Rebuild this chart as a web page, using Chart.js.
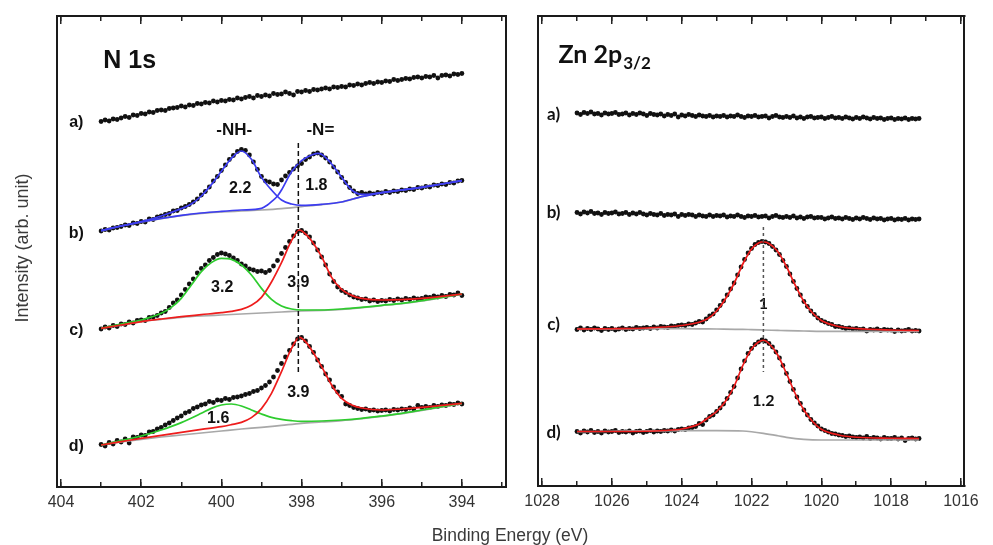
<!DOCTYPE html>
<html>
<head>
<meta charset="utf-8">
<script src="https://cdn.jsdelivr.net/npm/chart.js@4.4.1/dist/chart.umd.min.js"></script>
<style>
  html, body { margin: 0; padding: 0; background: #fff; }
  body { width: 993px; height: 545px; position: relative; overflow: hidden; }
  canvas { position: absolute; top: 0; }
  #nChart { left: 0; }
  #znChart { left: 510px; }
</style>
</head>
<body>
<canvas id="nChart" width="993" height="545"></canvas>
<canvas id="znChart" width="483" height="545"></canvas>
<script>
// ---- N 1s panel (binding energy in eV, intensity in arb. units, spectra stacked) ----
const nEnergy = Array.from({ length: 91 }, (_, i) => +(403 - i * 0.1).toFixed(1));

const nA = [73.1,73.4,73.2,73.6,73.5,73.8,74.1,73.9,74.4,74.3,
  74.7,74.6,75.0,74.9,75.3,75.4,75.3,75.7,75.8,75.9,
  76.2,76.0,76.4,76.3,76.7,76.6,76.9,76.8,77.2,77.0,
  77.3,77.2,77.5,77.4,77.8,77.6,77.9,78.1,77.8,78.3,
  78.1,78.4,78.2,78.7,78.5,78.6,79.0,78.7,78.4,79.1,
  79.0,79.3,79.1,79.5,79.4,79.6,79.8,79.6,80.0,79.9,
  80.1,80.0,80.4,80.3,80.6,80.4,80.7,80.9,80.7,81.0,
  80.9,81.2,81.1,81.5,81.3,81.5,81.7,81.6,81.9,82.0,
  81.8,82.1,82.0,82.3,81.8,82.3,82.4,82.2,82.6,82.5,
  82.7];
const nB = [51.2,51.5,51.4,51.8,51.9,52.1,52.4,52.3,52.8,52.7,
  53.1,53.0,53.6,53.5,54.0,54.2,54.5,54.7,55.2,55.3,
  55.8,56.1,56.5,57.0,57.6,58.4,59.1,60.0,61.2,62.1,
  63.3,64.4,65.5,66.3,67.1,67.5,67.3,66.4,65.0,63.5,
  62.1,61.2,61.0,60.6,60.5,61.4,62.2,62.9,63.6,64.2,
  64.7,65.5,66.0,66.6,66.8,66.4,65.8,65.0,64.0,63.0,
  61.9,60.9,59.9,59.2,58.7,58.9,58.6,58.8,58.6,58.9,
  58.8,59.1,58.9,59.2,59.1,59.4,59.3,59.6,59.5,59.9,
  59.8,60.1,60.0,60.4,60.3,60.6,60.5,60.9,60.8,61.2,
  61.3];
const nC = [31.6,32.0,31.8,32.3,32.1,32.6,32.5,33.0,32.8,33.3,
  33.4,33.3,33.9,34.0,34.3,34.8,35.1,35.9,36.8,37.4,
  38.4,39.5,40.6,41.6,42.8,43.7,44.4,45.3,45.9,46.5,
  46.8,46.6,46.3,45.8,45.3,44.6,44.2,43.6,43.4,43.1,
  43.2,42.9,43.3,44.2,45.3,46.7,47.9,49.1,50.2,51.1,
  51.3,50.8,50.0,48.8,47.4,46.0,44.4,42.6,41.1,40.0,
  39.3,38.9,38.4,38.0,37.8,37.5,37.6,37.2,37.4,37.1,
  37.3,37.2,37.5,37.3,37.6,37.4,37.7,37.5,37.8,37.6,
  37.7,38.0,37.9,38.2,38.0,38.3,38.1,38.5,38.4,38.8,
  38.3];
const nD = [8.5,8.2,8.9,8.6,9.3,9.0,9.6,8.8,10.0,9.9,
  10.4,10.3,11.0,11.1,11.6,11.9,12.4,12.8,13.3,13.8,
  14.2,14.8,15.1,15.7,16.0,16.4,16.6,17.1,16.9,17.4,
  17.3,17.7,17.5,17.9,18.0,18.2,18.5,18.7,19.1,19.3,
  19.8,20.3,21.0,22.0,23.3,24.7,26.0,27.3,28.6,29.6,
  29.9,29.2,28.1,26.9,25.4,24.1,22.6,21.4,20.0,19.0,
  18.1,16.6,16.3,15.9,15.7,15.5,15.6,15.3,15.4,15.2,
  15.3,15.4,15.2,15.5,15.4,15.6,15.5,15.8,15.6,16.3,
  15.9,16.1,15.9,16.3,16.1,16.4,16.3,16.6,16.5,16.8,
  16.6];

// fitted components
const bgE = [403,402.5,402,401.5,401,400.5,400,399.5,399,398.5,398,397.5,397,396.5,396,395.5,395,394.5,394];
const bBg = [51.27,52.2,53.0,53.67,54.27,54.73,55.0,55.2,55.4,55.67,56.07,56.47,57.0,58.07,58.87,59.4,59.93,60.6,61.27];
const cBg = [31.73,32.4,33.07,33.53,33.93,34.2,34.4,34.6,34.8,35.0,35.2,35.33,35.53,35.87,36.27,36.67,37.2,37.87,38.53];
const dBg = [8.4,9.0,9.53,10.0,10.4,10.8,11.2,11.6,11.93,12.33,12.73,13.0,13.27,13.67,14.13,14.67,15.33,16.0,16.67];

const bNhE = [403,402.5,402,401.5,401,400.75,400.5,400.25,400,399.75,399.5,399.25,399,398.75,398.5,398.25,398,397.5,397,396.5,396.25,396,395.5,395,394.5,394];
const bNh = [51.27,52.2,53.07,54.2,55.67,56.6,58.2,60.47,63.13,65.73,67.2,65.53,61.93,59.4,57.4,56.6,56.33,56.53,57.0,58.07,58.47,58.87,59.4,59.93,60.6,61.27];
const bNeqE = [403,402.5,402,401.5,401,400.5,400,399.5,399,398.85,398.75,398.6,398.5,398.25,398,397.75,397.6,397.5,397.25,397,396.75,396.5,396.25,396,395.5,395,394.5,394];
const bNeq = [51.27,52.2,53.0,53.73,54.33,54.8,55.13,55.4,55.73,56.4,57.07,58.2,59.4,63.07,65.27,66.4,66.73,66.53,64.6,61.93,59.4,58.53,58.6,58.87,59.4,59.93,60.6,61.27];

const cGreenE = [403,402.5,402,401.5,401.25,401,400.75,400.5,400.25,400,399.75,399.5,399.25,399,398.75,398.5,398.25,398,397.5,397,396.5,396,395.5,395,394.5,394];
const cGreen = [31.73,32.6,33.4,34.73,35.93,37.73,40.4,43.07,44.87,45.73,45.53,44.4,42.4,39.73,37.53,36.2,35.6,35.4,35.4,35.6,35.93,36.33,36.73,37.27,37.93,38.6];
const dGreenE = [403,402.5,402,401.5,401,400.5,400.25,400,399.75,399.5,399.25,399,398.75,398.5,398.25,398,397.5,397,396.5,396,395.5,395,394.5,394];
const dGreen = [8.4,9.27,10.2,11.4,12.87,14.73,15.73,16.4,16.6,16.2,15.4,14.6,13.93,13.53,13.27,13.13,13.2,13.4,13.73,14.2,14.73,15.4,16.07,16.73];

const redE = [403,402.5,402,401.5,401,400.5,400,399.75,399.5,399.25,399,398.75,398.5,398.25,398.05,397.9,397.75,397.5,397.25,397,396.75,396.5,396,395.5,395,394.5,394];
const cRed = [31.73,32.4,33.07,33.6,34.07,34.47,34.87,35.13,35.53,36.33,37.93,41.0,44.87,49.27,51.4,50.6,49.27,46.07,41.93,39.53,38.33,37.73,37.4,37.47,37.73,38.13,38.6];
const dRed = [8.4,9.07,9.73,10.33,10.93,11.53,12.07,12.47,12.93,13.87,15.67,18.73,23.07,27.73,29.93,29.07,27.4,24.07,20.4,17.73,16.4,15.8,15.4,15.6,15.93,16.33,16.73];

const nMarkE = [398.08, 398.08];
const nMark = [68.8, 22.4];

// ---- Zn 2p3/2 panel ----
const znEnergy = Array.from({ length: 99 }, (_, i) => +(1027 - i * 0.1).toFixed(1));

const znA = [74.6,74.3,74.7,74.5,74.8,74.4,74.5,74.2,74.6,74.4,
  74.5,74.7,74.3,74.4,74.6,74.2,74.5,74.3,74.6,74.4,
  74.1,74.5,74.3,74.2,74.4,74.0,74.3,74.1,74.4,73.8,
  74.2,74.0,74.3,74.1,73.9,74.2,74.0,73.9,74.1,73.8,
  74.0,73.9,74.1,73.8,74.0,73.9,74.2,73.9,73.7,74.0,
  73.9,74.1,73.8,73.9,74.0,73.6,73.9,74.1,73.8,73.7,
  73.9,73.7,74.0,73.6,73.8,73.5,73.8,73.9,73.6,73.7,
  73.8,73.5,73.7,73.9,73.6,73.7,73.5,73.8,73.6,73.4,
  73.7,73.5,73.8,73.6,73.4,73.7,73.5,73.6,73.3,73.5,
  73.6,73.3,73.5,73.4,73.6,73.3,73.5,73.4,73.5];
const znB = [54.7,54.4,54.8,54.6,54.9,54.5,54.6,54.3,54.7,54.5,
  54.6,54.8,54.4,54.5,54.7,54.3,54.6,54.4,54.7,54.4,
  54.2,54.5,54.3,54.2,54.5,54.1,54.3,54.2,54.4,53.9,
  54.3,54.1,54.3,54.2,53.9,54.2,54.0,53.9,54.2,53.9,
  54.1,54.0,54.2,53.8,54.0,53.9,54.2,53.9,53.7,54.0,
  53.9,54.1,53.8,53.9,54.0,53.6,53.9,54.1,53.8,53.7,
  53.9,53.7,54.0,53.6,53.8,53.5,53.8,53.9,53.6,53.7,
  53.7,53.4,53.6,53.8,53.5,53.6,53.4,53.7,53.5,53.3,
  53.6,53.4,53.7,53.5,53.3,53.6,53.4,53.5,53.2,53.4,
  53.5,53.2,53.4,53.3,53.5,53.2,53.4,53.3,53.4];
const znC = [31.3,31.6,31.2,31.5,31.3,31.6,31.4,31.1,31.5,31.3,
  31.5,31.2,31.4,31.6,31.3,31.5,31.4,31.7,31.5,31.6,
  31.7,31.5,31.8,31.6,31.9,31.8,31.7,32.0,31.9,32.1,
  32.2,32.1,32.4,32.3,32.6,32.9,32.8,33.4,34.0,34.4,
  35.2,36.1,37.0,38.2,39.4,40.6,42.2,43.8,45.3,46.6,
  47.5,48.3,48.7,48.9,48.8,48.5,47.9,47.2,46.3,45.1,
  43.9,42.4,40.9,39.5,38.2,36.9,35.9,35.0,34.3,33.6,
  33.1,32.8,32.5,32.3,31.9,31.9,31.7,31.5,31.6,31.4,
  31.5,31.3,31.4,31.0,31.3,31.2,31.4,31.1,31.3,31.2,
  31.2,30.9,31.2,31.0,31.1,31.3,31.0,31.1,31.0];
const znD = [10.9,10.6,11.0,10.8,11.1,10.7,10.9,10.6,11.0,10.8,
  10.9,11.1,10.7,10.9,10.8,11.0,10.6,10.9,11.0,10.7,
  10.9,11.1,10.8,11.0,10.9,11.1,11.0,11.2,11.0,11.3,
  11.4,11.3,11.6,11.7,11.9,12.5,12.3,13.2,13.9,14.2,
  14.9,15.6,16.4,17.5,18.7,19.9,21.6,23.4,25.0,26.5,
  27.5,28.3,28.8,29.2,29.0,28.5,27.8,26.8,25.6,24.1,
  22.5,20.9,19.3,17.8,16.5,15.2,14.2,13.3,12.6,12.0,
  11.4,11.1,10.8,10.5,10.4,10.2,10.1,9.9,10.0,9.8,
  9.7,9.8,9.6,9.9,9.5,9.7,9.6,9.4,9.7,9.5,
  9.5,9.7,9.4,9.6,9.1,9.5,9.6,9.4,9.5];

const znFitE = [1027,1026,1025,1024.5,1024,1023.5,1023.25,1023,1022.75,1022.5,1022.25,1022,1021.8,1021.66,1021.5,1021.25,1021,1020.75,1020.5,1020.25,1020,1019.5,1019,1018,1017.2];
const znCFit = [31.4,31.45,31.6,31.8,32.1,32.75,33.5,35.0,37.4,40.5,44.4,47.4,48.6,48.85,48.5,46.9,43.9,40.2,36.9,34.6,33.1,31.9,31.5,31.2,31.1];
const znDFit = [10.9,10.9,10.95,11.1,11.4,12.4,13.6,14.9,16.9,19.9,24.1,27.4,28.8,29.15,28.5,26.2,22.5,18.5,15.2,12.9,11.35,10.2,9.75,9.55,9.5];
const znBgE = [1027,1024,1023,1022.25,1022,1021.66,1021.25,1021,1020.5,1020,1019,1017.2];
const znCBg = [31.4,31.47,31.4,31.33,31.27,31.2,31.12,31.07,31.0,30.93,30.93,30.93];
const znDBg = [10.87,11.07,11.07,11.0,10.85,10.53,10.05,9.73,9.33,9.2,9.2,9.2];

const znMarkE = [1021.66, 1021.66];
const znMark = [51.8, 22.8];

// ---- helpers ----
const FONT = '"Liberation Sans", Arial, sans-serif';
const LATO = 'Lato, "Liberation Sans", sans-serif';
Chart.defaults.font.family = FONT;
Chart.defaults.color = '#333';

const BLUE = '#3c3cf0', RED = '#ee1c1c', GREEN = '#2ecc2e', GRAY = '#a8a8a8';

const pts = (xs, ys) => ys.map((y, i) => ({ x: xs[i], y }));
const dots = (xs, ys) => ({ data: pts(xs, ys), showLine: false, pointRadius: 2.4, pointHoverRadius: 2.4,
  backgroundColor: '#111', borderWidth: 0, order: 5 });
const fit = (xs, ys, color, order) => ({ type: 'line', data: pts(xs, ys), borderColor: color, borderWidth: 1.7,
  pointRadius: 0, fill: false, cubicInterpolationMode: 'monotone', order });
const mark = (xs, ys, color, dash) => ({ type: 'line', data: pts(xs, ys), borderColor: color, borderWidth: 1.5,
  borderDash: dash, pointRadius: 0, fill: false, order: 1 });

const frame = { color: '#1a1a1a', width: 2 };
const tickGrid = len => ({ drawOnChartArea: false, tickLength: len, color: '#222', lineWidth: 1.5 });

function buildScales(min, max, yMax, bottomH) {
  const base = { type: 'linear', min, max, reverse: true };
  return {
    xm: { ...base, position: 'bottom', weight: 0, ticks: { display: false, stepSize: 1, includeBounds: false, maxTicksLimit: 30 },
          grid: tickGrid(-5), border: { display: false }, afterFit: s => { s.height = 0; } },
    x: { ...base, position: 'bottom', weight: 1,
         ticks: { stepSize: 2, includeBounds: false, padding: 14, maxRotation: 0, font: { size: 16 }, color: '#333',
                  callback: v => String(v) },
         grid: tickGrid(-8), border: frame, afterFit: s => { s.height = bottomH; } },
    xtm: { ...base, position: 'top', weight: 0, ticks: { display: false, stepSize: 1, includeBounds: false, maxTicksLimit: 30 },
           grid: tickGrid(-5), border: { display: false }, afterFit: s => { s.height = 0; } },
    xt: { ...base, position: 'top', weight: 1, ticks: { display: false, stepSize: 2, includeBounds: false },
          grid: tickGrid(-8), border: frame, afterFit: s => { s.height = 0; } },
    y: { type: 'linear', min: 0, max: yMax, position: 'left', ticks: { display: false }, grid: { display: false },
         border: frame, afterFit: s => { s.width = 0; } },
    yr: { type: 'linear', min: 0, max: yMax, position: 'right', ticks: { display: false }, grid: { display: false },
          border: frame, afterFit: s => { s.width = 0; } }
  };
}

// text placed in data coordinates
function textPlugin(id, items, extra) {
  return {
    id,
    beforeDatasetsDraw(chart) {
      const { ctx, scales: { x, y } } = chart;
      ctx.save();
      ctx.fillStyle = '#111';
      items.forEach(it => {
        ctx.font = it.font;
        ctx.textAlign = it.align || 'center';
        ctx.textBaseline = it.base || 'middle';
        const px = x.getPixelForValue(it.e), py = y.getPixelForValue(it.v);
        ctx.fillText(it.text, px, py);
        if (it.sub) {
          const w = ctx.measureText(it.text).width;
          ctx.font = it.subFont;
          ctx.textAlign = 'left';
          ctx.fillText(it.sub, px + w + 1, py + 6);
        }
      });
      ctx.restore();
    },
    afterDraw(chart) { if (extra) extra(chart.ctx); }
  };
}

const lbl = 'bold 16px ' + FONT;
const num = 'bold 16px ' + FONT;
const nText = [
  { text: 'N 1s', e: 402.945, v: 83.74, font: 'bold 25px ' + FONT, align: 'left', base: 'alphabetic' },
  { text: 'a)', e: 403.62, v: 72.86, font: lbl },
  { text: 'b)', e: 403.62, v: 50.73, font: lbl },
  { text: 'c)', e: 403.62, v: 31.27, font: lbl },
  { text: 'd)', e: 403.62, v: 8.07, font: lbl },
  { text: '-NH-', e: 399.68, v: 71.4, font: 'bold 17px ' + FONT },
  { text: '-N=', e: 397.53, v: 71.4, font: 'bold 17px ' + FONT },
  { text: '2.2', e: 399.53, v: 59.6, font: num },
  { text: '1.8', e: 397.63, v: 60.2, font: num },
  { text: '3.2', e: 399.98, v: 39.8, font: num },
  { text: '3.9', e: 398.08, v: 40.8, font: num },
  { text: '1.6', e: 400.08, v: 13.6, font: num },
  { text: '3.9', e: 398.08, v: 18.8, font: num }
];
const zl = 'bold 17px ' + LATO;
const znText = [
  { text: 'Zn 2p', e: 1027.53, v: 84.54, font: 'bold 25px ' + LATO, align: 'left', base: 'alphabetic',
    sub: '3/2', subFont: 'bold 17px ' + LATO },
  { text: 'a)', e: 1027.67, v: 74.2, font: zl },
  { text: 'b)', e: 1027.67, v: 54.7, font: zl },
  { text: 'c)', e: 1027.67, v: 32.2, font: zl },
  { text: 'd)', e: 1027.67, v: 10.73, font: zl },
  { text: '1', e: 1021.66, v: 36.4, font: 'bold 16px ' + LATO },
  { text: '1.2', e: 1021.66, v: 17.0, font: 'bold 16px ' + LATO }
];

function axisTitles(ctx) {
  ctx.save();
  ctx.fillStyle = '#3a3a3a';
  ctx.font = '17.5px ' + FONT;
  ctx.textAlign = 'center';
  ctx.textBaseline = 'middle';
  ctx.fillText('Binding Energy (eV)', 510, 536);
  ctx.translate(23, 248);
  ctx.rotate(-Math.PI / 2);
  ctx.font = '18px ' + FONT;
  ctx.fillText('Intensity (arb. unit)', 0, 0);
  ctx.restore();
}

new Chart(document.getElementById('nChart'), {
  type: 'scatter',
  data: {
    datasets: [
      mark(nMarkE, nMark, '#111', [5, 3]),
      dots(nEnergy, nA),
      dots(nEnergy, nB),
      fit(bgE, bBg, GRAY, 4),
      fit(bNhE, bNh, BLUE, 3),
      fit(bNeqE, bNeq, BLUE, 3),
      dots(nEnergy, nC),
      fit(bgE, cBg, GRAY, 4),
      fit(cGreenE, cGreen, GREEN, 3),
      fit(redE, cRed, RED, 2),
      dots(nEnergy, nD),
      fit(bgE, dBg, GRAY, 4),
      fit(dGreenE, dGreen, GREEN, 3),
      fit(redE, dRed, RED, 2)
    ]
  },
  options: {
    responsive: false,
    animation: false,
    events: [],
    layout: { padding: { left: 57, right: 487, top: 16, bottom: 0 } },
    scales: buildScales(392.9, 404.1, 94.2, 58),
    plugins: { legend: { display: false }, tooltip: { enabled: false } }
  },
  plugins: [textPlugin('nText', nText, axisTitles)]
});

new Chart(document.getElementById('znChart'), {
  type: 'scatter',
  data: {
    datasets: [
      mark(znMarkE, znMark, '#555', [3, 3]),
      dots(znEnergy, znA),
      dots(znEnergy, znB),
      dots(znEnergy, znC),
      fit(znBgE, znCBg, GRAY, 4),
      fit(znFitE, znCFit, RED, 2),
      dots(znEnergy, znD),
      fit(znBgE, znDBg, GRAY, 4),
      fit(znFitE, znDFit, RED, 2)
    ]
  },
  options: {
    responsive: false,
    animation: false,
    events: [],
    layout: { padding: { left: 16, right: 17, top: 16, bottom: 0 } },
    scales: buildScales(1015.9, 1028.13, 94, 59),
    plugins: { legend: { display: false }, tooltip: { enabled: false } }
  },
  plugins: [textPlugin('znText', znText)]
});
</script>
</body>
</html>
